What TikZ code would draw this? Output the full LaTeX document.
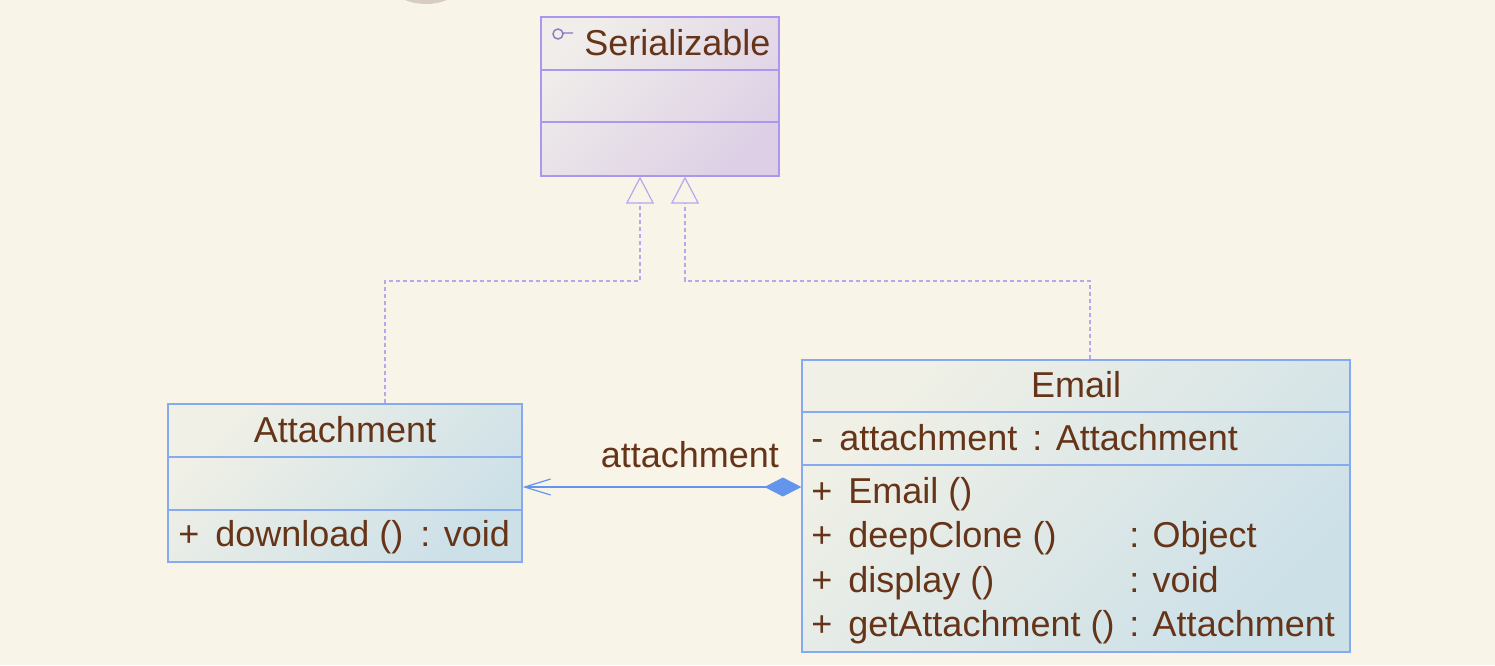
\documentclass[tikz,border=0pt]{standalone}
\usepackage{fontspec}
\setmainfont{Liberation Sans}
\usetikzlibrary{arrows.meta, positioning}

\definecolor{paper}{HTML}{F8F4E8}
\definecolor{ink}{HTML}{663519}
\definecolor{classedge}{HTML}{85AAF0}
\definecolor{ifaceedge}{HTML}{AE96EE}
\definecolor{classlite}{HTML}{F0F0E6}
\definecolor{classdark}{HTML}{CCE0E8}
\definecolor{ifacelite}{HTML}{F0EDEA}
\definecolor{ifacedark}{HTML}{DDD0E6}
\definecolor{linkblue}{HTML}{6495ED}
\definecolor{dotlilac}{HTML}{B8A6F0}
\definecolor{knob}{HTML}{D6CCC0}

\begin{document}
\begin{tikzpicture}[
    x=0.5pt, y=-0.5pt,
    font=\fontsize{18}{22.25}\selectfont,
    classbox/.style={
        draw=classedge, line width=0.6pt, inner sep=0pt,
        top color=classlite, bottom color=classdark, shading angle=45
    },
    ifacebox/.style={
        draw=ifaceedge, line width=0.6pt, inner sep=0pt,
        top color=ifacelite, bottom color=ifacedark, shading angle=45
    },
    title/.style={text=ink, inner sep=0pt, anchor=base},
    member/.style={text=ink, inner sep=0pt, anchor=base west},
    realize/.style={
        draw=dotlilac, line width=0.6pt, dash pattern=on 2pt off 1.5pt,
        -{Triangle[open, length=13.5pt, width=14pt, line width=0.6pt]}
    },
    owns/.style={
        draw=linkblue, line width=0.6pt,
        {Diamond[length=18.5pt, width=9.5pt, fill=linkblue]}-{Straight Barb[length=13pt, width=8pt]}
    }
]

\useasboundingbox (0,0) rectangle (1495,665);
\fill[paper] (0,0) rectangle (1495,665);

\begin{scope}
\clip (0,0) rectangle (1495,665);
\fill[knob] (426,-53) circle (57);
\end{scope}

% class boxes
\node[ifacebox, minimum width=119pt, minimum height=79.5pt] (ser) at (660,96.5) {};
\node[classbox, minimum width=177pt, minimum height=79pt]   (att) at (345,483) {};
\node[classbox, minimum width=274pt, minimum height=146pt]  (eml) at (1076,506) {};

\foreach \y in {70,122}
    \draw[ifaceedge, line width=0.6pt] (ser.west |- 0,\y) -- (ser.east |- 0,\y);
\foreach \y in {457,510}
    \draw[classedge, line width=0.6pt] (att.west |- 0,\y) -- (att.east |- 0,\y);
\foreach \y in {412,465}
    \draw[classedge, line width=0.6pt] (eml.west |- 0,\y) -- (eml.east |- 0,\y);

% interface
\draw[ifaceedge!80!black, line width=0.7pt] (558,34) circle (5) (563,33) -- (573,33);
\node[member] (ser-name) at (584,55) {Serializable};

% Attachment
\node[title]  (att-name) at (att.center |- 0,442) {Attachment};
\node[member] (att-ops)  at (178,546) {+\hspace{8pt}download ()\hspace{8.5pt}: void};

% Email
\node[title]  (eml-name)  at (eml.center |- 0,397) {Email};
\node[member] (eml-attrs) at (811,450) {-\hspace{8pt}attachment\hspace{7.5pt}: Attachment};
\node[member] (eml-ops)   at (811,503) {\begin{tabular}[t]{@{}p{159pt}@{}l@{}}
    +\hspace{8pt}Email ()            & \\
    +\hspace{8pt}deepClone ()        & : Object\\
    +\hspace{8pt}display ()          & : void\\
    +\hspace{8pt}getAttachment ()    & : Attachment
\end{tabular}};

% relations
\draw[realize] (att.north -| 385,0) -- (385,281) -| (ser.south -| 640,0);
\draw[realize] (eml.north -| 1090,0) -- (1090,281) -| (ser.south -| 685,0);

\draw[owns] (eml.west |- 0,487) -- node[text=ink, above=6pt, pos=0.4] (link-name) {attachment} (att.east |- 0,487);

\end{tikzpicture}
\end{document}
